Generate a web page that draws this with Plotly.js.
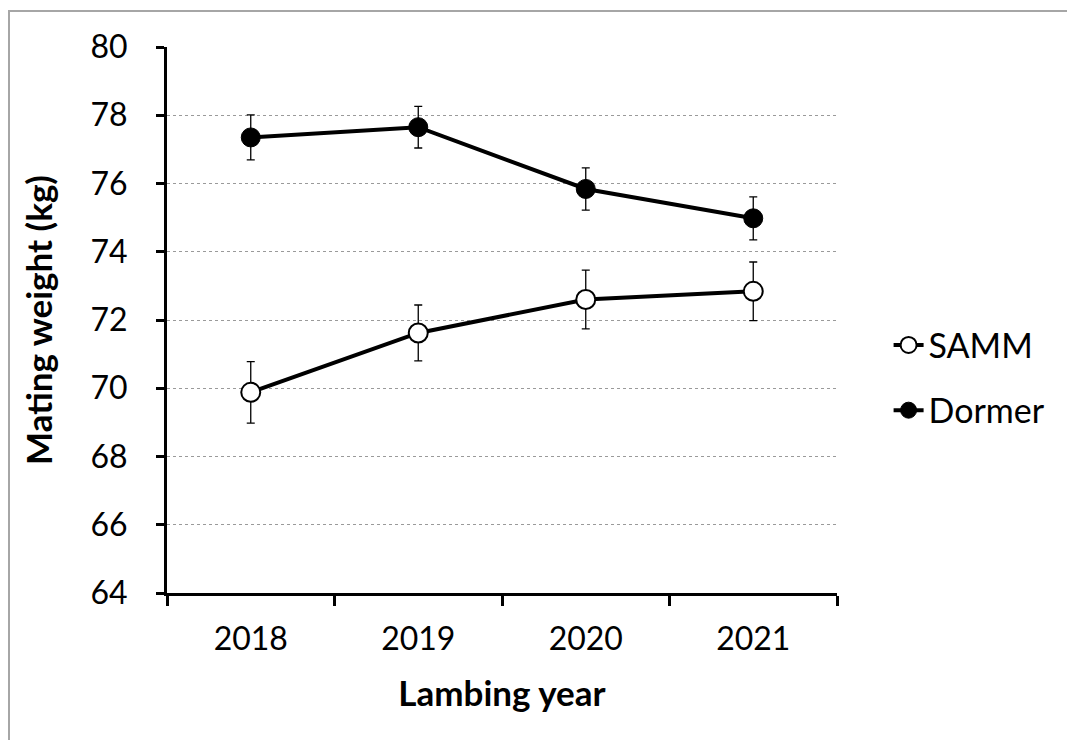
<!DOCTYPE html>
<html>
<head>
<meta charset="utf-8">
<script src="https://cdn.plot.ly/plotly-3.0.1.min.js"></script>
<style>
  html, body { margin: 0; padding: 0; background: #fff; overflow: hidden; }
  #frame { position: absolute; left: 8px; top: 10px; width: 1200px; height: 900px; border: 2px solid #a6a6a6; box-sizing: border-box; }
  #chart { position: absolute; left: 0; top: 0; width: 1067px; height: 740px; }
</style>
</head>
<body>
<div id="frame"></div>
<div id="chart"></div>
<script>
const years = ['2018', '2019', '2020', '2021'];
const sammMean = [69.88, 71.62, 72.60, 72.84];
const sammErr = [0.90, 0.82, 0.86, 0.86];
const dormerMean = [77.35, 77.65, 75.84, 74.98];
const dormerErr = [0.66, 0.61, 0.62, 0.63];
const yTicks = [64, 66, 68, 70, 72, 74, 76, 78, 80];

const font = 'Lato, Carlito, Calibri, "Open Sans", sans-serif';

const traces = [
  {
    name: 'SAMM', legendgroup: 'samm', x: years, y: sammMean, type: 'scatter', mode: 'lines+markers',
    line: { color: '#000', width: 4 },
    marker: { symbol: 'circle', size: 19, color: '#fff', line: { color: '#000', width: 2 } },
    error_y: { type: 'data', array: sammErr, visible: true, color: '#000', thickness: 1.3, width: 4 }
  },
  {
    name: 'Dormer', legendgroup: 'dormer', x: years, y: dormerMean, type: 'scatter', mode: 'lines+markers',
    line: { color: '#000', width: 4 },
    marker: { symbol: 'circle', size: 19, color: '#000', line: { color: '#000', width: 1 } },
    error_y: { type: 'data', array: dormerErr, visible: true, color: '#000', thickness: 1.3, width: 4 }
  }
];

const layout = {
  width: 1067, height: 740,
  margin: { l: 167, r: 230, t: 47, b: 147 },
  paper_bgcolor: 'rgba(0,0,0,0)', plot_bgcolor: 'rgba(0,0,0,0)',
  font: { family: font, color: '#000', size: 32 },
  showlegend: true,
  legend: {
    x: 1.077, xanchor: 'left', y: 0.394, yanchor: 'middle',
    font: { family: font, size: 34, color: '#000' },
    bgcolor: 'rgba(0,0,0,0)', tracegroupgap: 18, itemwidth: 30
  },
  xaxis: {
    type: 'category', categoryorder: 'array', categoryarray: years,
    range: [-0.5, 3.5], fixedrange: true,
    showline: true, linecolor: '#000', linewidth: 3,
    ticks: 'outside', tickson: 'boundaries', ticklen: 10, tickwidth: 3, tickcolor: '#000',
    showgrid: false, zeroline: false,
    tickfont: { family: font, size: 32, color: '#000' },
    ticklabelstandoff: 16,
    title: { text: '<b>Lambing year</b>', font: { family: font, size: 35, color: '#000' }, standoff: 26 }
  },
  yaxis: {
    range: [64, 80], tickvals: yTicks, ticktext: yTicks.map(String), fixedrange: true,
    showline: true, linecolor: '#000', linewidth: 3,
    ticks: 'outside', ticklen: 8, tickwidth: 3, tickcolor: '#000',
    showgrid: true, gridcolor: '#9a9a9a', gridwidth: 1, griddash: 'dot',
    zeroline: false,
    tickfont: { family: font, size: 32, color: '#000' },
    ticklabelstandoff: 22,
    title: { text: '<b>Mating weight (kg)</b>', font: { family: font, size: 35, color: '#000' }, standoff: 28 }
  }
};

Plotly.newPlot('chart', traces, layout, { displayModeBar: false, staticPlot: true });
</script>
</body>
</html>
